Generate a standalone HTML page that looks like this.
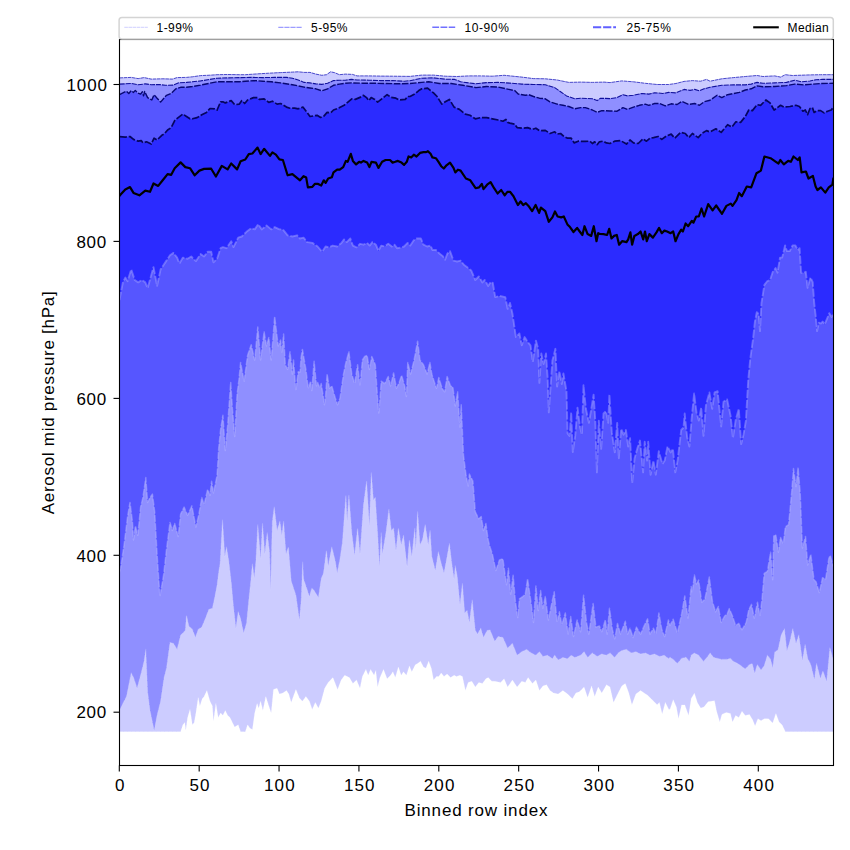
<!DOCTYPE html>
<html><head><meta charset="utf-8"><title>Aerosol mid pressure percentiles</title>
<style>
html,body{margin:0;padding:0;background:#fff;}
body{width:850px;height:850px;overflow:hidden;font-family:"Liberation Sans",sans-serif;}
svg{display:block;}
text{fill:#000;}
</style></head><body>
<svg width="850" height="850" viewBox="0 0 850 850">
<clipPath id="cp"><rect x="119.5" y="39.5" width="714.0" height="726.0"/></clipPath>
<g clip-path="url(#cp)">
<polygon points="119.5,77.9 131.2,77.4 138.2,78.6 144.1,77.6 151.2,79.1 162.9,78.8 172.4,79.1 177.1,77.6 186.5,77.4 192.4,76.8 200.6,75.6 210.0,75.2 217.1,74.7 227.6,74.5 239.4,74.7 245.3,74.7 257.1,73.9 268.8,73.2 280.6,72.6 292.4,72.1 298.2,71.8 304.1,72.4 310.0,72.4 315.9,74.1 321.8,75.3 326.5,74.7 330.6,71.8 334.7,72.7 339.4,74.7 345.3,74.1 352.4,74.4 357.1,75.9 368.8,75.9 380.6,76.1 392.4,76.2 410.0,76.4 421.8,75.1 433.5,75.1 445.3,76.2 457.1,76.5 468.8,75.9 480.6,75.9 492.4,76.2 504.1,75.3 510.0,75.9 521.8,77.1 533.5,78.6 545.3,78.8 557.1,80.0 568.8,82.4 580.6,82.1 592.4,82.4 604.1,82.1 610.0,82.6 621.8,80.9 633.5,81.8 645.3,83.3 657.1,84.5 668.8,84.5 675.9,83.5 684.1,81.4 692.4,80.6 700.6,81.2 706.5,79.4 710.0,81.2 721.8,78.8 733.5,77.6 745.3,76.5 757.1,75.5 762.9,76.5 774.7,75.9 780.6,77.1 785.3,74.7 792.4,75.5 804.1,75.1 810.0,74.9 820.6,74.7 833.5,74.7 833.5,731.7 785.4,731.7 782.2,725.1 779.1,721.9 775.9,713.4 772.7,722.9 768.5,718.7 764.2,718.7 761.1,720.8 757.9,718.7 755.1,726.1 752.6,719.8 749.4,714.5 745.2,715.5 742.0,711.3 738.8,717.6 735.6,715.5 732.5,721.9 730.4,713.4 726.1,712.4 721.9,714.5 719.8,721.9 716.6,711.3 714.5,700.7 708.1,701.8 703.9,707.1 700.7,708.1 697.5,702.8 694.4,693.3 691.2,698.6 688.6,715.5 684.8,704.9 681.6,704.9 678.5,718.7 676.4,707.1 673.2,699.7 670.0,709.2 668.8,709.4 665.3,702.4 662.2,714.1 659.4,702.4 657.1,704.7 652.4,700.0 647.6,695.3 644.1,692.9 640.6,690.6 635.9,694.1 631.9,704.7 628.8,692.9 625.3,683.5 621.8,685.9 618.2,692.9 613.5,702.4 610.0,687.1 606.5,684.7 601.8,692.9 598.2,687.1 594.7,696.5 591.6,685.9 587.6,697.6 584.1,687.1 579.4,691.8 575.9,692.9 572.4,698.8 567.6,694.1 562.9,690.6 558.2,694.1 553.5,692.9 550.0,690.6 546.5,684.7 542.9,685.9 539.4,690.6 535.9,680.0 532.4,683.5 528.1,677.6 525.3,682.4 521.8,681.2 517.1,687.1 512.4,680.0 507.6,687.1 504.1,678.8 500.6,682.4 494.7,681.2 491.8,681.2 488.2,677.6 485.9,678.8 482.4,683.5 478.8,682.4 475.3,687.1 471.8,681.2 468.2,682.4 465.4,690.6 462.4,676.5 460.0,675.3 456.5,676.5 454.1,675.3 450.6,677.6 447.1,674.1 444.0,676.5 441.2,672.9 438.8,676.5 436.5,676.5 433.6,680.0 431.3,668.2 428.7,661.2 425.9,668.2 423.5,667.1 420.5,661.2 417.6,663.5 415.3,664.7 411.8,671.8 409.4,665.9 406.4,675.3 403.5,671.8 401.2,675.3 398.4,667.1 395.3,677.6 392.9,671.8 390.6,675.3 387.1,678.8 383.5,669.4 380.0,677.6 377.6,687.1 375.8,670.6 374.1,675.3 370.6,669.4 368.2,675.3 365.9,669.4 362.4,676.5 360.0,688.2 356.5,680.0 352.9,683.5 349.4,677.6 344.7,675.3 341.2,680.0 337.6,689.4 332.9,677.6 328.2,682.4 324.7,688.2 321.2,701.2 318.4,708.2 315.3,702.4 312.2,709.4 309.4,701.2 305.9,696.5 302.4,701.2 299.4,698.0 295.9,689.4 291.2,702.4 288.8,694.1 286.5,690.6 282.9,692.9 279.4,694.1 277.1,688.2 273.5,689.4 271.2,712.9 268.8,705.9 265.8,696.5 262.9,710.6 260.6,701.2 258.7,708.2 257.1,703.5 254.7,712.9 252.4,729.4 250.0,728.2 247.6,724.7 245.3,731.7 240.6,731.7 238.2,724.7 234.7,727.1 232.4,722.4 230.0,717.6 227.6,715.3 225.3,710.6 222.9,715.3 220.6,712.9 218.2,717.6 215.9,703.5 213.5,721.2 212.4,705.9 210.0,701.2 206.9,690.6 204.1,696.5 202.2,698.8 199.9,705.9 198.2,697.6 195.9,712.9 194.2,722.4 192.4,724.7 190.0,709.4 187.6,717.6 185.8,730.6 184.8,722.4 182.9,724.7 180.6,731.7 119.5,731.7" fill="#ccccff"/>
<polygon points="119.5,84.1 131.2,83.5 138.2,84.7 145.3,83.9 151.2,84.7 159.4,84.5 165.3,85.3 173.5,85.1 178.2,82.9 186.5,82.4 192.4,81.8 200.6,80.9 210.0,79.4 217.1,78.2 227.6,77.9 239.4,77.6 251.2,77.4 262.9,77.6 274.7,77.4 286.5,77.4 292.4,78.2 298.2,80.0 304.1,82.4 310.0,82.9 315.9,83.9 321.8,84.4 327.6,83.3 333.5,80.6 339.4,80.2 345.3,80.2 351.2,79.4 357.1,80.0 368.8,80.2 380.6,80.6 392.4,80.6 404.1,81.2 410.0,80.7 421.8,78.2 433.5,77.9 445.3,79.2 454.7,79.4 460.6,81.8 468.8,82.9 475.9,83.8 486.5,82.6 498.2,82.4 510.0,83.1 521.8,84.1 533.5,84.5 545.3,84.7 554.7,87.6 560.6,91.8 566.5,95.9 574.7,98.8 580.6,98.2 592.4,98.8 597.1,100.6 600.6,98.2 610.0,98.6 617.1,97.6 622.9,94.7 627.6,95.9 633.5,95.3 641.8,93.5 648.8,94.1 654.7,92.7 662.9,93.5 668.8,92.4 675.9,92.9 684.1,89.4 690.0,90.4 694.7,89.4 699.4,90.8 704.1,88.8 710.0,87.3 721.8,85.3 733.5,84.9 745.3,84.9 751.2,84.1 757.1,82.4 762.9,83.3 774.7,82.9 786.5,82.4 794.7,80.2 801.8,81.8 810.0,81.0 815.9,79.8 822.9,79.4 833.5,79.4 833.5,660.5 829.9,647.8 826.7,681.6 822.9,671.1 820.4,678.5 816.5,663.6 814.4,679.5 810.8,664.7 807.7,658.4 805.1,644.6 802.4,660.5 798.8,635.1 796.0,643.5 792.8,628.7 789.6,642.5 786.9,650.9 784.4,628.7 781.2,635.1 778.0,649.9 774.8,652.0 772.7,667.9 770.6,659.4 767.4,655.2 764.2,665.8 761.1,670.0 757.2,664.7 754.7,673.2 752.2,663.6 749.4,664.7 745.2,668.9 740.9,665.8 737.8,663.6 733.5,661.5 730.4,658.4 726.1,659.4 721.9,659.4 717.6,658.4 713.4,657.3 710.2,653.1 707.1,657.3 703.5,661.5 698.6,655.2 694.4,653.1 691.2,655.2 689.5,661.5 685.9,657.3 681.6,658.4 677.4,663.6 673.2,659.4 670.0,657.3 668.8,658.8 664.1,655.3 659.4,656.5 654.7,654.1 650.0,655.3 645.3,652.9 640.6,654.1 635.9,651.8 631.2,652.9 626.5,649.4 621.8,650.6 618.2,652.9 614.7,657.6 610.0,652.9 606.5,655.3 601.8,654.1 597.1,656.5 592.4,652.9 587.6,657.6 584.1,651.8 580.6,655.3 574.7,657.6 571.2,655.3 567.6,658.8 562.9,657.6 558.2,660.0 554.7,655.3 552.4,658.8 547.6,655.3 542.9,656.5 539.4,651.8 535.9,655.3 531.2,652.9 526.5,649.4 521.8,651.8 517.1,655.3 512.4,643.5 507.6,648.2 502.9,637.6 498.2,636.5 494.7,641.2 490.0,630.0 487.1,630.6 483.5,637.6 480.7,628.2 477.6,634.1 475.3,630.6 472.2,600.0 469.4,622.4 467.1,610.6 464.7,612.9 462.4,583.5 460.0,604.7 457.2,576.0 455.3,565.9 454.1,579.0 451.8,563.5 449.4,543.5 447.1,556.5 444.0,572.9 441.2,563.5 438.4,551.8 435.3,570.6 431.8,556.5 430.1,530.6 428.2,544.7 425.2,524.7 422.4,540.0 420.0,544.7 417.6,511.8 415.8,549.4 414.8,528.2 411.8,556.5 409.4,540.0 407.1,566.5 403.5,535.3 401.2,544.7 398.4,528.2 396.0,550.6 393.6,528.2 391.3,530.6 388.9,509.4 385.9,532.9 382.4,554.1 381.2,532.9 379.5,566.5 377.6,532.9 375.3,497.6 373.4,500.0 371.3,472.9 369.4,525.9 366.6,481.2 363.5,504.7 360.0,554.1 357.6,528.2 354.6,555.3 351.8,532.9 348.9,495.3 347.1,521.2 345.9,495.3 342.4,542.4 340.0,558.8 337.2,572.9 335.3,561.2 331.8,547.1 328.2,565.9 326.4,550.6 323.5,572.9 321.2,578.8 318.4,597.6 314.1,590.6 311.8,588.2 309.4,596.5 305.9,585.9 303.5,578.8 302.7,562.0 301.2,600.0 299.4,620.0 295.9,595.3 291.2,581.0 288.4,547.1 286.0,554.1 283.6,521.2 281.8,535.3 279.9,521.2 277.1,530.6 274.2,507.1 272.4,521.2 271.7,545.0 270.7,590.0 269.5,552.0 267.2,532.9 264.8,554.1 262.5,523.5 260.6,558.8 257.8,524.7 255.9,561.2 254.3,578.0 252.4,564.0 250.7,582.0 248.8,600.0 246.5,623.5 243.6,632.9 240.6,618.8 238.2,611.8 235.9,628.2 233.5,607.1 231.2,582.0 228.8,561.2 226.5,547.1 224.8,556.5 222.5,520.0 220.1,563.5 218.7,572.0 217.1,585.0 214.7,597.6 212.4,608.2 208.8,609.4 205.3,618.8 201.8,627.1 198.2,629.4 195.4,637.6 192.4,629.4 188.8,625.9 186.5,615.3 185.3,630.6 180.6,635.3 177.1,649.4 173.5,643.5 170.0,642.4 166.5,668.2 164.1,677.6 160.6,701.2 157.1,715.3 154.2,730.6 150.0,710.6 147.6,691.8 145.8,649.4 144.1,661.2 140.6,675.3 137.1,688.2 133.5,677.6 131.2,672.9 126.5,696.5 122.9,703.5 120.6,708.2 119.5,710.0" fill="#8f8fff"/>
<polygon points="119.5,94.7 126.5,91.2 128.8,93.5 131.2,90.6 133.5,92.4 135.3,90.4 137.6,92.9 140.6,94.1 142.4,91.8 143.5,95.9 144.7,91.5 147.6,97.6 151.8,100.0 154.1,94.7 157.1,98.2 160.6,102.1 166.5,95.3 171.2,93.5 175.9,88.8 180.6,87.3 186.5,87.3 192.4,86.5 200.6,85.1 210.0,83.2 217.1,81.8 227.6,81.8 239.4,81.8 245.3,81.2 253.5,80.6 262.9,81.2 271.2,81.8 280.6,82.9 292.4,84.7 298.2,85.9 304.1,87.1 310.0,88.0 315.9,88.8 321.8,90.8 327.6,88.8 333.5,85.3 339.4,84.1 345.3,83.3 351.2,82.9 362.9,83.2 374.7,83.3 386.5,83.5 398.2,83.8 410.0,83.5 421.8,82.4 428.8,81.8 439.4,83.5 451.2,83.5 462.9,85.3 475.9,87.6 486.5,86.5 498.2,87.1 510.0,89.6 514.7,90.6 518.2,94.1 525.3,95.3 528.8,94.7 533.5,96.5 539.4,98.2 545.3,98.8 550.0,101.8 557.1,104.1 562.9,105.3 568.8,106.5 574.7,108.8 580.6,107.6 585.3,107.6 592.4,110.0 597.1,112.4 601.8,110.6 610.0,111.0 617.1,111.2 622.9,107.6 627.6,109.4 633.5,107.1 639.4,105.3 645.3,104.1 648.8,105.3 654.7,103.5 659.4,103.5 665.3,105.9 671.2,103.8 677.1,104.5 681.8,101.4 688.8,104.5 694.7,103.5 699.4,105.3 704.1,101.8 710.0,100.3 717.1,95.3 721.8,97.6 727.6,94.7 739.4,92.4 745.3,90.0 751.2,88.8 757.1,85.9 762.9,86.8 774.7,86.5 786.5,85.6 794.7,84.1 804.1,84.9 810.0,84.4 820.6,83.5 833.5,83.3 833.5,567.1 830.3,555.4 828.8,558.6 825.7,578.7 822.5,577.7 819.3,592.5 816.1,581.9 814.0,579.8 810.8,554.4 807.7,564.9 805.5,536.4 802.4,548.0 800.2,492.9 798.1,467.5 796.0,486.6 793.5,468.6 791.8,490.8 788.6,524.7 785.4,526.8 783.3,543.8 780.5,537.4 778.4,552.2 775.9,535.3 773.8,535.3 772.7,579.8 770.6,552.2 767.4,571.3 764.2,573.4 762.1,598.0 760.0,616.0 757.5,602.2 754.3,618.1 751.5,604.4 748.8,609.6 746.2,622.4 742.0,629.8 738.8,623.4 735.6,625.5 732.5,616.0 729.3,608.6 727.2,613.9 724.6,616.0 721.2,622.4 718.3,606.5 715.5,611.8 712.4,601.2 709.3,577.0 707.1,588.0 704.9,599.1 701.8,602.2 698.6,580.0 696.5,584.0 694.4,575.0 692.2,592.5 691.2,586.4 688.0,618.1 684.8,595.9 681.6,613.9 677.4,632.9 673.2,619.2 670.0,625.5 668.4,620.0 664.6,636.5 661.8,629.4 658.9,612.9 655.9,634.1 653.5,628.2 650.0,634.1 647.6,618.8 644.1,625.9 640.6,634.1 636.4,627.1 633.1,637.6 630.0,628.2 627.6,634.1 625.3,621.2 620.6,634.1 617.5,623.5 614.7,638.8 612.4,629.4 609.5,608.2 607.2,634.1 605.3,620.0 601.8,631.8 599.4,625.9 595.9,627.1 593.1,603.5 588.8,634.1 586.5,622.4 583.6,595.3 580.6,631.8 577.1,620.0 573.5,636.5 570.7,616.5 568.1,634.1 565.3,612.9 561.8,624.7 559.4,611.8 557.1,622.4 554.2,591.8 551.2,605.9 548.4,620.0 545.3,596.5 542.9,608.2 540.6,590.6 538.2,610.6 535.9,585.9 533.5,622.4 531.2,603.5 527.6,578.8 525.3,594.1 522.9,596.5 519.4,598.8 517.8,617.6 515.4,601.2 513.1,575.3 510.7,594.1 508.4,568.2 506.5,584.7 502.9,558.8 499.4,560.0 495.9,570.6 492.4,554.1 490.0,547.1 488.2,540.0 485.9,523.5 483.5,530.6 481.2,516.5 478.8,518.8 475.3,511.8 472.9,481.2 469.4,474.1 468.2,485.9 465.9,474.1 463.5,455.3 461.2,404.7 460.0,427.1 457.6,391.8 455.3,405.9 452.9,387.1 450.6,385.9 447.1,376.5 444.7,391.8 442.4,389.0 438.8,377.6 436.5,388.2 434.1,381.2 431.8,374.1 429.9,362.4 427.1,374.1 423.5,364.7 420.0,360.0 417.6,341.2 414.1,360.0 410.6,374.1 407.8,362.4 406.4,396.5 404.7,385.9 401.6,375.3 398.8,383.5 396.5,388.2 393.6,372.9 390.6,385.9 388.2,376.5 384.7,383.5 381.2,381.2 380.0,398.0 378.8,412.9 377.6,398.0 375.3,364.7 371.8,356.5 369.4,369.4 367.1,355.3 364.7,356.5 362.4,360.0 360.0,385.9 357.6,364.7 354.6,383.5 351.8,374.1 348.9,351.8 345.9,362.4 343.5,374.1 340.0,398.0 337.6,404.7 335.3,398.0 331.8,385.9 329.4,388.2 327.1,374.1 325.4,398.0 324.4,404.7 323.5,398.0 321.2,383.5 320.0,388.2 317.6,382.4 316.5,385.9 314.1,361.2 311.8,390.6 310.6,381.2 308.2,388.2 305.9,369.4 302.4,349.4 301.0,358.0 300.1,372.0 298.2,371.8 295.9,390.6 293.5,360.0 292.4,374.1 290.0,351.8 287.6,369.4 285.3,364.7 283.6,334.1 281.8,352.9 280.6,340.0 278.2,345.9 274.7,316.5 271.2,360.0 268.8,337.6 266.5,345.9 264.1,331.8 260.6,360.0 257.8,327.1 254.7,360.0 251.2,344.7 247.6,355.3 244.1,381.2 240.6,362.4 238.9,380.0 237.1,394.1 234.7,436.5 232.4,408.2 230.7,382.4 227.6,425.9 225.3,450.6 222.9,415.3 220.6,429.4 218.7,448.2 217.1,475.3 213.5,492.9 211.6,481.2 210.0,495.3 207.6,489.4 204.1,504.7 201.8,497.6 198.9,514.1 195.9,527.1 191.9,505.9 187.6,515.3 184.1,507.1 180.6,514.1 178.2,536.5 174.7,523.5 172.4,530.6 170.0,522.4 166.5,549.4 163.6,575.0 159.9,596.5 157.1,554.1 154.7,511.8 152.4,494.1 150.0,497.6 147.6,502.4 145.8,477.6 142.9,497.6 140.6,507.1 137.8,535.3 135.4,525.9 133.5,540.0 132.4,521.2 130.0,502.4 127.6,516.5 124.1,544.7 120.6,568.2 119.5,572.0" fill="#5656ff"/>
<polygon points="119.5,136.7 125.3,137.1 130.0,136.5 133.5,139.4 138.2,141.2 141.2,140.6 142.9,142.9 146.5,141.8 151.2,144.1 154.1,138.2 157.1,140.0 161.8,135.3 164.1,134.1 167.6,130.0 171.2,127.6 174.7,120.6 178.2,117.6 182.9,114.1 186.5,116.5 190.0,118.8 192.4,118.8 197.1,117.6 201.8,114.7 206.5,112.4 210.0,108.5 214.7,108.8 217.1,110.0 220.6,101.8 222.9,101.8 225.3,102.9 231.2,100.6 234.7,104.7 239.4,104.1 241.8,100.6 244.7,103.5 247.6,100.0 253.5,97.6 257.1,97.6 259.4,99.4 264.1,98.8 268.8,102.4 272.4,101.2 277.1,104.1 280.6,103.5 286.5,107.1 290.0,108.2 294.7,108.2 298.2,108.8 302.9,107.1 306.5,111.8 310.0,116.5 317.1,115.3 320.6,117.4 324.1,115.9 327.1,112.4 330.6,112.9 333.5,110.0 338.2,108.2 344.1,105.3 347.6,102.4 351.8,98.8 355.3,99.4 360.6,97.1 363.5,95.3 366.5,97.6 368.8,100.6 371.2,97.6 374.7,99.4 377.6,102.1 381.8,98.8 387.1,94.7 391.2,97.4 395.9,98.2 399.4,100.0 405.3,99.4 407.6,96.5 410.0,96.5 414.7,94.1 418.8,90.6 421.8,88.8 427.6,88.2 433.5,92.9 437.1,96.5 441.8,104.1 445.3,101.8 449.4,99.4 454.1,107.1 459.4,109.4 465.3,114.1 470.0,115.3 475.3,118.8 480.6,117.6 486.5,117.6 492.4,118.8 498.2,120.0 502.9,121.2 505.9,119.4 507.6,122.4 510.0,123.1 514.7,124.1 517.1,127.6 522.9,128.2 527.6,127.6 532.4,129.4 535.9,128.2 539.4,130.6 545.3,130.4 550.0,133.5 554.7,131.8 557.1,134.1 560.6,133.5 564.1,136.5 567.6,138.2 571.2,138.2 574.1,142.9 578.2,141.2 585.3,141.4 590.0,141.2 592.4,143.5 594.7,141.8 597.1,144.7 599.4,141.8 602.9,141.2 606.5,142.9 610.0,143.5 614.7,141.2 620.6,140.6 626.5,144.1 630.0,140.0 633.5,142.9 638.2,143.5 642.9,138.8 646.5,141.2 650.0,138.2 653.5,137.6 658.2,136.5 661.8,139.4 666.5,135.9 671.2,134.1 674.7,138.2 680.6,132.4 685.3,133.5 688.8,137.6 692.4,133.5 698.2,137.6 701.8,133.5 706.5,130.6 710.0,132.0 715.9,128.8 721.2,132.4 727.6,124.7 731.8,127.1 735.9,121.8 740.6,122.4 745.3,116.5 748.8,110.0 752.4,110.6 757.1,104.7 760.6,105.3 765.9,100.0 770.0,102.9 774.1,110.0 780.6,105.3 784.1,107.1 790.0,106.5 795.9,105.3 799.4,106.5 802.9,111.2 805.3,110.0 807.6,114.7 810.0,108.5 812.4,107.6 814.1,112.4 817.1,110.6 820.6,110.6 824.1,112.9 827.6,111.2 831.2,110.0 833.5,107.1 833.5,314.1 831.6,316.9 829.3,313.2 827.4,317.9 824.6,324.5 822.7,321.6 820.8,323.5 818.9,322.6 817.1,331.1 815.7,316.0 814.2,302.8 812.7,282.1 810.5,277.4 807.6,287.8 805.8,271.8 803.9,272.7 801.1,272.7 799.6,248.2 797.7,250.1 795.4,245.4 792.6,245.4 789.8,251.1 786.9,251.1 785.1,245.4 782.2,257.6 780.0,257.6 777.5,272.7 775.6,268.0 772.8,271.8 770.0,280.2 767.2,281.2 764.4,284.9 761.5,302.8 760.0,331.1 758.7,314.1 756.8,312.2 754.9,321.6 753.1,338.6 750.2,359.3 748.2,380.6 745.9,420.6 743.5,434.7 741.2,444.1 738.8,408.8 735.8,419.4 732.9,438.2 730.6,415.9 727.1,399.4 723.5,401.8 721.2,426.5 717.6,391.2 714.6,392.4 712.2,408.8 709.4,392.4 705.9,405.3 703.5,435.9 701.2,407.6 698.8,420.6 696.5,412.4 694.1,393.5 691.8,417.1 689.4,446.5 687.1,437.1 684.7,413.5 683.5,427.6 681.2,430.0 677.6,460.6 675.3,472.4 672.9,448.8 670.6,452.4 667.5,446.5 664.7,460.6 662.4,464.1 658.8,451.2 655.8,474.7 653.4,460.6 650.6,474.7 648.2,441.8 647.1,460.6 644.7,441.8 643.1,472.4 640.0,440.6 637.6,447.6 634.6,458.2 632.2,482.9 630.1,438.2 628.2,446.5 625.9,430.0 623.5,434.7 621.2,428.8 618.8,458.2 617.2,422.9 614.8,452.4 611.8,432.4 609.4,394.7 608.2,422.9 605.9,411.2 603.5,413.5 601.2,448.8 598.8,420.6 596.9,472.4 595.3,420.6 593.6,394.7 591.3,408.8 588.9,422.9 585.9,408.8 583.5,385.3 581.9,434.7 580.0,427.0 577.5,407.6 575.2,435.9 572.8,452.0 571.2,412.4 569.5,435.9 567.6,433.5 566.5,391.2 563.4,373.5 561.8,384.1 559.4,371.2 557.1,386.5 555.4,348.8 552.4,360.6 548.8,412.4 547.6,377.1 546.0,353.5 543.6,364.1 541.3,353.5 539.4,382.9 538.2,348.8 535.9,340.6 532.8,361.8 530.5,345.3 527.6,341.8 524.6,337.1 521.8,345.3 519.4,333.5 515.9,337.1 512.4,313.5 510.0,302.9 507.6,308.8 505.3,297.1 499.4,295.9 495.2,297.1 492.8,282.9 490.6,282.0 488.2,285.9 484.7,280.0 482.4,282.4 478.8,276.5 475.3,280.0 471.2,270.5 467.6,267.6 464.1,265.0 460.6,260.6 457.1,261.5 453.5,260.6 450.0,251.2 447.4,253.5 445.1,259.7 442.9,256.2 439.4,253.5 435.9,250.0 432.4,250.0 430.6,245.6 427.1,246.5 423.5,244.7 420.9,238.5 416.5,238.5 413.8,240.3 410.3,245.6 407.6,242.9 404.1,246.5 401.5,247.4 397.1,248.2 394.4,244.7 391.8,246.5 388.2,243.8 384.7,246.5 381.2,245.6 378.5,250.9 375.9,244.7 372.4,242.1 369.7,245.6 367.1,242.9 363.5,244.7 360.0,243.8 356.5,247.4 352.9,245.6 350.3,238.5 346.8,242.1 344.1,239.4 341.5,242.9 337.1,246.5 332.6,245.6 329.1,247.4 325.6,246.5 322.1,251.8 317.6,246.5 312.4,242.9 307.1,242.1 303.5,237.6 300.0,238.5 297.1,235.3 292.4,236.5 287.6,235.3 282.9,229.4 279.4,229.4 274.7,227.1 271.2,229.4 266.5,225.4 261.8,229.4 258.2,224.2 254.7,229.4 251.2,228.2 246.5,231.8 241.8,236.5 238.2,237.6 233.5,247.1 231.2,241.2 226.5,248.2 222.9,247.1 220.6,248.2 217.1,258.8 213.5,262.4 211.2,251.8 207.6,251.8 204.1,256.5 200.6,254.1 195.9,261.2 191.2,256.5 187.6,258.8 182.9,257.6 179.4,263.5 177.1,257.6 173.5,252.9 170.0,255.3 165.3,262.4 160.6,269.4 157.1,285.9 153.5,267.1 151.2,275.3 147.6,288.2 145.3,282.4 141.8,280.0 138.2,282.4 134.7,280.0 131.2,269.4 127.6,281.2 125.3,277.6 122.9,282.4 120.6,294.1 119.5,300.0" fill="#2b2bff"/>
<polyline points="119.5,731.7 180.6,731.7 182.9,724.7 184.8,722.4 185.8,730.6 187.6,717.6 190.0,709.4 192.4,724.7 194.2,722.4 195.9,712.9 198.2,697.6 199.9,705.9 202.2,698.8 204.1,696.5 206.9,690.6 210.0,701.2 212.4,705.9 213.5,721.2 215.9,703.5 218.2,717.6 220.6,712.9 222.9,715.3 225.3,710.6 227.6,715.3 230.0,717.6 232.4,722.4 234.7,727.1 238.2,724.7 240.6,731.7 245.3,731.7 247.6,724.7 250.0,728.2 252.4,729.4 254.7,712.9 257.1,703.5 258.7,708.2 260.6,701.2 262.9,710.6 265.8,696.5 268.8,705.9 271.2,712.9 273.5,689.4 277.1,688.2 279.4,694.1 282.9,692.9 286.5,690.6 288.8,694.1 291.2,702.4 295.9,689.4 299.4,698.0 302.4,701.2 305.9,696.5 309.4,701.2 312.2,709.4 315.3,702.4 318.4,708.2 321.2,701.2 324.7,688.2 328.2,682.4 332.9,677.6 337.6,689.4 341.2,680.0 344.7,675.3 349.4,677.6 352.9,683.5 356.5,680.0 360.0,688.2 362.4,676.5 365.9,669.4 368.2,675.3 370.6,669.4 374.1,675.3 375.8,670.6 377.6,687.1 380.0,677.6 383.5,669.4 387.1,678.8 390.6,675.3 392.9,671.8 395.3,677.6 398.4,667.1 401.2,675.3 403.5,671.8 406.4,675.3 409.4,665.9 411.8,671.8 415.3,664.7 417.6,663.5 420.5,661.2 423.5,667.1 425.9,668.2 428.7,661.2 431.3,668.2 433.6,680.0 436.5,676.5 438.8,676.5 441.2,672.9 444.0,676.5 447.1,674.1 450.6,677.6 454.1,675.3 456.5,676.5 460.0,675.3 462.4,676.5 465.4,690.6 468.2,682.4 471.8,681.2 475.3,687.1 478.8,682.4 482.4,683.5 485.9,678.8 488.2,677.6 491.8,681.2 494.7,681.2 500.6,682.4 504.1,678.8 507.6,687.1 512.4,680.0 517.1,687.1 521.8,681.2 525.3,682.4 528.1,677.6 532.4,683.5 535.9,680.0 539.4,690.6 542.9,685.9 546.5,684.7 550.0,690.6 553.5,692.9 558.2,694.1 562.9,690.6 567.6,694.1 572.4,698.8 575.9,692.9 579.4,691.8 584.1,687.1 587.6,697.6 591.6,685.9 594.7,696.5 598.2,687.1 601.8,692.9 606.5,684.7 610.0,687.1 613.5,702.4 618.2,692.9 621.8,685.9 625.3,683.5 628.8,692.9 631.9,704.7 635.9,694.1 640.6,690.6 644.1,692.9 647.6,695.3 652.4,700.0 657.1,704.7 659.4,702.4 662.2,714.1 665.3,702.4 668.8,709.4 670.0,709.2 673.2,699.7 676.4,707.1 678.5,718.7 681.6,704.9 684.8,704.9 688.6,715.5 691.2,698.6 694.4,693.3 697.5,702.8 700.7,708.1 703.9,707.1 708.1,701.8 714.5,700.7 716.6,711.3 719.8,721.9 721.9,714.5 726.1,712.4 730.4,713.4 732.5,721.9 735.6,715.5 738.8,717.6 742.0,711.3 745.2,715.5 749.4,714.5 752.6,719.8 755.1,726.1 757.9,718.7 761.1,720.8 764.2,718.7 768.5,718.7 772.7,722.9 775.9,713.4 779.1,721.9 782.2,725.1 785.4,731.7 833.5,731.7" fill="none" stroke="#ffffff" stroke-width="0.75" stroke-dasharray="3.6,0.5" stroke-linejoin="round" opacity="0.3"/>
<polyline points="119.5,710.0 120.6,708.2 122.9,703.5 126.5,696.5 131.2,672.9 133.5,677.6 137.1,688.2 140.6,675.3 144.1,661.2 145.8,649.4 147.6,691.8 150.0,710.6 154.2,730.6 157.1,715.3 160.6,701.2 164.1,677.6 166.5,668.2 170.0,642.4 173.5,643.5 177.1,649.4 180.6,635.3 185.3,630.6 186.5,615.3 188.8,625.9 192.4,629.4 195.4,637.6 198.2,629.4 201.8,627.1 205.3,618.8 208.8,609.4 212.4,608.2 214.7,597.6 217.1,585.0 218.7,572.0 220.1,563.5 222.5,520.0 224.8,556.5 226.5,547.1 228.8,561.2 231.2,582.0 233.5,607.1 235.9,628.2 238.2,611.8 240.6,618.8 243.6,632.9 246.5,623.5 248.8,600.0 250.7,582.0 252.4,564.0 254.3,578.0 255.9,561.2 257.8,524.7 260.6,558.8 262.5,523.5 264.8,554.1 267.2,532.9 269.5,552.0 270.7,590.0 271.7,545.0 272.4,521.2 274.2,507.1 277.1,530.6 279.9,521.2 281.8,535.3 283.6,521.2 286.0,554.1 288.4,547.1 291.2,581.0 295.9,595.3 299.4,620.0 301.2,600.0 302.7,562.0 303.5,578.8 305.9,585.9 309.4,596.5 311.8,588.2 314.1,590.6 318.4,597.6 321.2,578.8 323.5,572.9 326.4,550.6 328.2,565.9 331.8,547.1 335.3,561.2 337.2,572.9 340.0,558.8 342.4,542.4 345.9,495.3 347.1,521.2 348.9,495.3 351.8,532.9 354.6,555.3 357.6,528.2 360.0,554.1 363.5,504.7 366.6,481.2 369.4,525.9 371.3,472.9 373.4,500.0 375.3,497.6 377.6,532.9 379.5,566.5 381.2,532.9 382.4,554.1 385.9,532.9 388.9,509.4 391.3,530.6 393.6,528.2 396.0,550.6 398.4,528.2 401.2,544.7 403.5,535.3 407.1,566.5 409.4,540.0 411.8,556.5 414.8,528.2 415.8,549.4 417.6,511.8 420.0,544.7 422.4,540.0 425.2,524.7 428.2,544.7 430.1,530.6 431.8,556.5 435.3,570.6 438.4,551.8 441.2,563.5 444.0,572.9 447.1,556.5 449.4,543.5 451.8,563.5 454.1,579.0 455.3,565.9 457.2,576.0 460.0,604.7 462.4,583.5 464.7,612.9 467.1,610.6 469.4,622.4 472.2,600.0 475.3,630.6 477.6,634.1 480.7,628.2 483.5,637.6 487.1,630.6 490.0,630.0 494.7,641.2 498.2,636.5 502.9,637.6 507.6,648.2 512.4,643.5 517.1,655.3 521.8,651.8 526.5,649.4 531.2,652.9 535.9,655.3 539.4,651.8 542.9,656.5 547.6,655.3 552.4,658.8 554.7,655.3 558.2,660.0 562.9,657.6 567.6,658.8 571.2,655.3 574.7,657.6 580.6,655.3 584.1,651.8 587.6,657.6 592.4,652.9 597.1,656.5 601.8,654.1 606.5,655.3 610.0,652.9 614.7,657.6 618.2,652.9 621.8,650.6 626.5,649.4 631.2,652.9 635.9,651.8 640.6,654.1 645.3,652.9 650.0,655.3 654.7,654.1 659.4,656.5 664.1,655.3 668.8,658.8 670.0,657.3 673.2,659.4 677.4,663.6 681.6,658.4 685.9,657.3 689.5,661.5 691.2,655.2 694.4,653.1 698.6,655.2 703.5,661.5 707.1,657.3 710.2,653.1 713.4,657.3 717.6,658.4 721.9,659.4 726.1,659.4 730.4,658.4 733.5,661.5 737.8,663.6 740.9,665.8 745.2,668.9 749.4,664.7 752.2,663.6 754.7,673.2 757.2,664.7 761.1,670.0 764.2,665.8 767.4,655.2 770.6,659.4 772.7,667.9 774.8,652.0 778.0,649.9 781.2,635.1 784.4,628.7 786.9,650.9 789.6,642.5 792.8,628.7 796.0,643.5 798.8,635.1 802.4,660.5 805.1,644.6 807.7,658.4 810.8,664.7 814.4,679.5 816.5,663.6 820.4,678.5 822.9,671.1 826.7,681.6 829.9,647.8 833.5,660.5" fill="none" stroke="#d8d8ff" stroke-width="1.1" stroke-dasharray="5.2,0.85" stroke-linejoin="round" opacity="0.3"/>
<polyline points="119.5,572.0 120.6,568.2 124.1,544.7 127.6,516.5 130.0,502.4 132.4,521.2 133.5,540.0 135.4,525.9 137.8,535.3 140.6,507.1 142.9,497.6 145.8,477.6 147.6,502.4 150.0,497.6 152.4,494.1 154.7,511.8 157.1,554.1 159.9,596.5 163.6,575.0 166.5,549.4 170.0,522.4 172.4,530.6 174.7,523.5 178.2,536.5 180.6,514.1 184.1,507.1 187.6,515.3 191.9,505.9 195.9,527.1 198.9,514.1 201.8,497.6 204.1,504.7 207.6,489.4 210.0,495.3 211.6,481.2 213.5,492.9 217.1,475.3 218.7,448.2 220.6,429.4 222.9,415.3 225.3,450.6 227.6,425.9 230.7,382.4 232.4,408.2 234.7,436.5 237.1,394.1 238.9,380.0 240.6,362.4 244.1,381.2 247.6,355.3 251.2,344.7 254.7,360.0 257.8,327.1 260.6,360.0 264.1,331.8 266.5,345.9 268.8,337.6 271.2,360.0 274.7,316.5 278.2,345.9 280.6,340.0 281.8,352.9 283.6,334.1 285.3,364.7 287.6,369.4 290.0,351.8 292.4,374.1 293.5,360.0 295.9,390.6 298.2,371.8 300.1,372.0 301.0,358.0 302.4,349.4 305.9,369.4 308.2,388.2 310.6,381.2 311.8,390.6 314.1,361.2 316.5,385.9 317.6,382.4 320.0,388.2 321.2,383.5 323.5,398.0 324.4,404.7 325.4,398.0 327.1,374.1 329.4,388.2 331.8,385.9 335.3,398.0 337.6,404.7 340.0,398.0 343.5,374.1 345.9,362.4 348.9,351.8 351.8,374.1 354.6,383.5 357.6,364.7 360.0,385.9 362.4,360.0 364.7,356.5 367.1,355.3 369.4,369.4 371.8,356.5 375.3,364.7 377.6,398.0 378.8,412.9 380.0,398.0 381.2,381.2 384.7,383.5 388.2,376.5 390.6,385.9 393.6,372.9 396.5,388.2 398.8,383.5 401.6,375.3 404.7,385.9 406.4,396.5 407.8,362.4 410.6,374.1 414.1,360.0 417.6,341.2 420.0,360.0 423.5,364.7 427.1,374.1 429.9,362.4 431.8,374.1 434.1,381.2 436.5,388.2 438.8,377.6 442.4,389.0 444.7,391.8 447.1,376.5 450.6,385.9 452.9,387.1 455.3,405.9 457.6,391.8 460.0,427.1 461.2,404.7 463.5,455.3 465.9,474.1 468.2,485.9 469.4,474.1 472.9,481.2 475.3,511.8 478.8,518.8 481.2,516.5 483.5,530.6 485.9,523.5 488.2,540.0 490.0,547.1 492.4,554.1 495.9,570.6 499.4,560.0 502.9,558.8 506.5,584.7 508.4,568.2 510.7,594.1 513.1,575.3 515.4,601.2 517.8,617.6 519.4,598.8 522.9,596.5 525.3,594.1 527.6,578.8 531.2,603.5 533.5,622.4 535.9,585.9 538.2,610.6 540.6,590.6 542.9,608.2 545.3,596.5 548.4,620.0 551.2,605.9 554.2,591.8 557.1,622.4 559.4,611.8 561.8,624.7 565.3,612.9 568.1,634.1 570.7,616.5 573.5,636.5 577.1,620.0 580.6,631.8 583.6,595.3 586.5,622.4 588.8,634.1 593.1,603.5 595.9,627.1 599.4,625.9 601.8,631.8 605.3,620.0 607.2,634.1 609.5,608.2 612.4,629.4 614.7,638.8 617.5,623.5 620.6,634.1 625.3,621.2 627.6,634.1 630.0,628.2 633.1,637.6 636.4,627.1 640.6,634.1 644.1,625.9 647.6,618.8 650.0,634.1 653.5,628.2 655.9,634.1 658.9,612.9 661.8,629.4 664.6,636.5 668.4,620.0 670.0,625.5 673.2,619.2 677.4,632.9 681.6,613.9 684.8,595.9 688.0,618.1 691.2,586.4 692.2,592.5 694.4,575.0 696.5,584.0 698.6,580.0 701.8,602.2 704.9,599.1 707.1,588.0 709.3,577.0 712.4,601.2 715.5,611.8 718.3,606.5 721.2,622.4 724.6,616.0 727.2,613.9 729.3,608.6 732.5,616.0 735.6,625.5 738.8,623.4 742.0,629.8 746.2,622.4 748.8,609.6 751.5,604.4 754.3,618.1 757.5,602.2 760.0,616.0 762.1,598.0 764.2,573.4 767.4,571.3 770.6,552.2 772.7,579.8 773.8,535.3 775.9,535.3 778.4,552.2 780.5,537.4 783.3,543.8 785.4,526.8 788.6,524.7 791.8,490.8 793.5,468.6 796.0,486.6 798.1,467.5 800.2,492.9 802.4,548.0 805.5,536.4 807.7,564.9 810.8,554.4 814.0,579.8 816.1,581.9 819.3,592.5 822.5,577.7 825.7,578.7 828.8,558.6 830.3,555.4 833.5,567.1" fill="none" stroke="#b8b8ff" stroke-width="1.5" stroke-dasharray="6.8,1.4" stroke-linejoin="round" opacity="0.45"/>
<polyline points="119.5,300.0 120.6,294.1 122.9,282.4 125.3,277.6 127.6,281.2 131.2,269.4 134.7,280.0 138.2,282.4 141.8,280.0 145.3,282.4 147.6,288.2 151.2,275.3 153.5,267.1 157.1,285.9 160.6,269.4 165.3,262.4 170.0,255.3 173.5,252.9 177.1,257.6 179.4,263.5 182.9,257.6 187.6,258.8 191.2,256.5 195.9,261.2 200.6,254.1 204.1,256.5 207.6,251.8 211.2,251.8 213.5,262.4 217.1,258.8 220.6,248.2 222.9,247.1 226.5,248.2 231.2,241.2 233.5,247.1 238.2,237.6 241.8,236.5 246.5,231.8 251.2,228.2 254.7,229.4 258.2,224.2 261.8,229.4 266.5,225.4 271.2,229.4 274.7,227.1 279.4,229.4 282.9,229.4 287.6,235.3 292.4,236.5 297.1,235.3 300.0,238.5 303.5,237.6 307.1,242.1 312.4,242.9 317.6,246.5 322.1,251.8 325.6,246.5 329.1,247.4 332.6,245.6 337.1,246.5 341.5,242.9 344.1,239.4 346.8,242.1 350.3,238.5 352.9,245.6 356.5,247.4 360.0,243.8 363.5,244.7 367.1,242.9 369.7,245.6 372.4,242.1 375.9,244.7 378.5,250.9 381.2,245.6 384.7,246.5 388.2,243.8 391.8,246.5 394.4,244.7 397.1,248.2 401.5,247.4 404.1,246.5 407.6,242.9 410.3,245.6 413.8,240.3 416.5,238.5 420.9,238.5 423.5,244.7 427.1,246.5 430.6,245.6 432.4,250.0 435.9,250.0 439.4,253.5 442.9,256.2 445.1,259.7 447.4,253.5 450.0,251.2 453.5,260.6 457.1,261.5 460.6,260.6 464.1,265.0 467.6,267.6 471.2,270.5 475.3,280.0 478.8,276.5 482.4,282.4 484.7,280.0 488.2,285.9 490.6,282.0 492.8,282.9 495.2,297.1 499.4,295.9 505.3,297.1 507.6,308.8 510.0,302.9 512.4,313.5 515.9,337.1 519.4,333.5 521.8,345.3 524.6,337.1 527.6,341.8 530.5,345.3 532.8,361.8 535.9,340.6 538.2,348.8 539.4,382.9 541.3,353.5 543.6,364.1 546.0,353.5 547.6,377.1 548.8,412.4 552.4,360.6 555.4,348.8 557.1,386.5 559.4,371.2 561.8,384.1 563.4,373.5 566.5,391.2 567.6,433.5 569.5,435.9 571.2,412.4 572.8,452.0 575.2,435.9 577.5,407.6 580.0,427.0 581.9,434.7 583.5,385.3 585.9,408.8 588.9,422.9 591.3,408.8 593.6,394.7 595.3,420.6 596.9,472.4 598.8,420.6 601.2,448.8 603.5,413.5 605.9,411.2 608.2,422.9 609.4,394.7 611.8,432.4 614.8,452.4 617.2,422.9 618.8,458.2 621.2,428.8 623.5,434.7 625.9,430.0 628.2,446.5 630.1,438.2 632.2,482.9 634.6,458.2 637.6,447.6 640.0,440.6 643.1,472.4 644.7,441.8 647.1,460.6 648.2,441.8 650.6,474.7 653.4,460.6 655.8,474.7 658.8,451.2 662.4,464.1 664.7,460.6 667.5,446.5 670.6,452.4 672.9,448.8 675.3,472.4 677.6,460.6 681.2,430.0 683.5,427.6 684.7,413.5 687.1,437.1 689.4,446.5 691.8,417.1 694.1,393.5 696.5,412.4 698.8,420.6 701.2,407.6 703.5,435.9 705.9,405.3 709.4,392.4 712.2,408.8 714.6,392.4 717.6,391.2 721.2,426.5 723.5,401.8 727.1,399.4 730.6,415.9 732.9,438.2 735.8,419.4 738.8,408.8 741.2,444.1 743.5,434.7 745.9,420.6 748.2,380.6 750.2,359.3 753.1,338.6 754.9,321.6 756.8,312.2 758.7,314.1 760.0,331.1 761.5,302.8 764.4,284.9 767.2,281.2 770.0,280.2 772.8,271.8 775.6,268.0 777.5,272.7 780.0,257.6 782.2,257.6 785.1,245.4 786.9,251.1 789.8,251.1 792.6,245.4 795.4,245.4 797.7,250.1 799.6,248.2 801.1,272.7 803.9,272.7 805.8,271.8 807.6,287.8 810.5,277.4 812.7,282.1 814.2,302.8 815.7,316.0 817.1,331.1 818.9,322.6 820.8,323.5 822.7,321.6 824.6,324.5 827.4,317.9 829.3,313.2 831.6,316.9 833.5,314.1" fill="none" stroke="#a0a0ff" stroke-width="1.9" stroke-dasharray="8.2,1.9" stroke-linejoin="round" opacity="0.5"/>
<polyline points="119.5,77.9 131.2,77.4 138.2,78.6 144.1,77.6 151.2,79.1 162.9,78.8 172.4,79.1 177.1,77.6 186.5,77.4 192.4,76.8 200.6,75.6 210.0,75.2 217.1,74.7 227.6,74.5 239.4,74.7 245.3,74.7 257.1,73.9 268.8,73.2 280.6,72.6 292.4,72.1 298.2,71.8 304.1,72.4 310.0,72.4 315.9,74.1 321.8,75.3 326.5,74.7 330.6,71.8 334.7,72.7 339.4,74.7 345.3,74.1 352.4,74.4 357.1,75.9 368.8,75.9 380.6,76.1 392.4,76.2 410.0,76.4 421.8,75.1 433.5,75.1 445.3,76.2 457.1,76.5 468.8,75.9 480.6,75.9 492.4,76.2 504.1,75.3 510.0,75.9 521.8,77.1 533.5,78.6 545.3,78.8 557.1,80.0 568.8,82.4 580.6,82.1 592.4,82.4 604.1,82.1 610.0,82.6 621.8,80.9 633.5,81.8 645.3,83.3 657.1,84.5 668.8,84.5 675.9,83.5 684.1,81.4 692.4,80.6 700.6,81.2 706.5,79.4 710.0,81.2 721.8,78.8 733.5,77.6 745.3,76.5 757.1,75.5 762.9,76.5 774.7,75.9 780.6,77.1 785.3,74.7 792.4,75.5 804.1,75.1 810.0,74.9 820.6,74.7 833.5,74.7" fill="none" stroke="#2c2cc0" stroke-width="0.85" stroke-dasharray="3.6,0.6" stroke-linejoin="round" />
<polyline points="119.5,84.1 131.2,83.5 138.2,84.7 145.3,83.9 151.2,84.7 159.4,84.5 165.3,85.3 173.5,85.1 178.2,82.9 186.5,82.4 192.4,81.8 200.6,80.9 210.0,79.4 217.1,78.2 227.6,77.9 239.4,77.6 251.2,77.4 262.9,77.6 274.7,77.4 286.5,77.4 292.4,78.2 298.2,80.0 304.1,82.4 310.0,82.9 315.9,83.9 321.8,84.4 327.6,83.3 333.5,80.6 339.4,80.2 345.3,80.2 351.2,79.4 357.1,80.0 368.8,80.2 380.6,80.6 392.4,80.6 404.1,81.2 410.0,80.7 421.8,78.2 433.5,77.9 445.3,79.2 454.7,79.4 460.6,81.8 468.8,82.9 475.9,83.8 486.5,82.6 498.2,82.4 510.0,83.1 521.8,84.1 533.5,84.5 545.3,84.7 554.7,87.6 560.6,91.8 566.5,95.9 574.7,98.8 580.6,98.2 592.4,98.8 597.1,100.6 600.6,98.2 610.0,98.6 617.1,97.6 622.9,94.7 627.6,95.9 633.5,95.3 641.8,93.5 648.8,94.1 654.7,92.7 662.9,93.5 668.8,92.4 675.9,92.9 684.1,89.4 690.0,90.4 694.7,89.4 699.4,90.8 704.1,88.8 710.0,87.3 721.8,85.3 733.5,84.9 745.3,84.9 751.2,84.1 757.1,82.4 762.9,83.3 774.7,82.9 786.5,82.4 794.7,80.2 801.8,81.8 810.0,81.0 815.9,79.8 822.9,79.4 833.5,79.4" fill="none" stroke="#10109c" stroke-width="1.1" stroke-dasharray="5.2,0.9" stroke-linejoin="round" />
<polyline points="119.5,94.7 126.5,91.2 128.8,93.5 131.2,90.6 133.5,92.4 135.3,90.4 137.6,92.9 140.6,94.1 142.4,91.8 143.5,95.9 144.7,91.5 147.6,97.6 151.8,100.0 154.1,94.7 157.1,98.2 160.6,102.1 166.5,95.3 171.2,93.5 175.9,88.8 180.6,87.3 186.5,87.3 192.4,86.5 200.6,85.1 210.0,83.2 217.1,81.8 227.6,81.8 239.4,81.8 245.3,81.2 253.5,80.6 262.9,81.2 271.2,81.8 280.6,82.9 292.4,84.7 298.2,85.9 304.1,87.1 310.0,88.0 315.9,88.8 321.8,90.8 327.6,88.8 333.5,85.3 339.4,84.1 345.3,83.3 351.2,82.9 362.9,83.2 374.7,83.3 386.5,83.5 398.2,83.8 410.0,83.5 421.8,82.4 428.8,81.8 439.4,83.5 451.2,83.5 462.9,85.3 475.9,87.6 486.5,86.5 498.2,87.1 510.0,89.6 514.7,90.6 518.2,94.1 525.3,95.3 528.8,94.7 533.5,96.5 539.4,98.2 545.3,98.8 550.0,101.8 557.1,104.1 562.9,105.3 568.8,106.5 574.7,108.8 580.6,107.6 585.3,107.6 592.4,110.0 597.1,112.4 601.8,110.6 610.0,111.0 617.1,111.2 622.9,107.6 627.6,109.4 633.5,107.1 639.4,105.3 645.3,104.1 648.8,105.3 654.7,103.5 659.4,103.5 665.3,105.9 671.2,103.8 677.1,104.5 681.8,101.4 688.8,104.5 694.7,103.5 699.4,105.3 704.1,101.8 710.0,100.3 717.1,95.3 721.8,97.6 727.6,94.7 739.4,92.4 745.3,90.0 751.2,88.8 757.1,85.9 762.9,86.8 774.7,86.5 786.5,85.6 794.7,84.1 804.1,84.9 810.0,84.4 820.6,83.5 833.5,83.3" fill="none" stroke="#070774" stroke-width="1.4" stroke-dasharray="6.6,1.5" stroke-linejoin="round" />
<polyline points="119.5,136.7 125.3,137.1 130.0,136.5 133.5,139.4 138.2,141.2 141.2,140.6 142.9,142.9 146.5,141.8 151.2,144.1 154.1,138.2 157.1,140.0 161.8,135.3 164.1,134.1 167.6,130.0 171.2,127.6 174.7,120.6 178.2,117.6 182.9,114.1 186.5,116.5 190.0,118.8 192.4,118.8 197.1,117.6 201.8,114.7 206.5,112.4 210.0,108.5 214.7,108.8 217.1,110.0 220.6,101.8 222.9,101.8 225.3,102.9 231.2,100.6 234.7,104.7 239.4,104.1 241.8,100.6 244.7,103.5 247.6,100.0 253.5,97.6 257.1,97.6 259.4,99.4 264.1,98.8 268.8,102.4 272.4,101.2 277.1,104.1 280.6,103.5 286.5,107.1 290.0,108.2 294.7,108.2 298.2,108.8 302.9,107.1 306.5,111.8 310.0,116.5 317.1,115.3 320.6,117.4 324.1,115.9 327.1,112.4 330.6,112.9 333.5,110.0 338.2,108.2 344.1,105.3 347.6,102.4 351.8,98.8 355.3,99.4 360.6,97.1 363.5,95.3 366.5,97.6 368.8,100.6 371.2,97.6 374.7,99.4 377.6,102.1 381.8,98.8 387.1,94.7 391.2,97.4 395.9,98.2 399.4,100.0 405.3,99.4 407.6,96.5 410.0,96.5 414.7,94.1 418.8,90.6 421.8,88.8 427.6,88.2 433.5,92.9 437.1,96.5 441.8,104.1 445.3,101.8 449.4,99.4 454.1,107.1 459.4,109.4 465.3,114.1 470.0,115.3 475.3,118.8 480.6,117.6 486.5,117.6 492.4,118.8 498.2,120.0 502.9,121.2 505.9,119.4 507.6,122.4 510.0,123.1 514.7,124.1 517.1,127.6 522.9,128.2 527.6,127.6 532.4,129.4 535.9,128.2 539.4,130.6 545.3,130.4 550.0,133.5 554.7,131.8 557.1,134.1 560.6,133.5 564.1,136.5 567.6,138.2 571.2,138.2 574.1,142.9 578.2,141.2 585.3,141.4 590.0,141.2 592.4,143.5 594.7,141.8 597.1,144.7 599.4,141.8 602.9,141.2 606.5,142.9 610.0,143.5 614.7,141.2 620.6,140.6 626.5,144.1 630.0,140.0 633.5,142.9 638.2,143.5 642.9,138.8 646.5,141.2 650.0,138.2 653.5,137.6 658.2,136.5 661.8,139.4 666.5,135.9 671.2,134.1 674.7,138.2 680.6,132.4 685.3,133.5 688.8,137.6 692.4,133.5 698.2,137.6 701.8,133.5 706.5,130.6 710.0,132.0 715.9,128.8 721.2,132.4 727.6,124.7 731.8,127.1 735.9,121.8 740.6,122.4 745.3,116.5 748.8,110.0 752.4,110.6 757.1,104.7 760.6,105.3 765.9,100.0 770.0,102.9 774.1,110.0 780.6,105.3 784.1,107.1 790.0,106.5 795.9,105.3 799.4,106.5 802.9,111.2 805.3,110.0 807.6,114.7 810.0,108.5 812.4,107.6 814.1,112.4 817.1,110.6 820.6,110.6 824.1,112.9 827.6,111.2 831.2,110.0 833.5,107.1" fill="none" stroke="#05055e" stroke-width="1.7" stroke-dasharray="7.4,1.9" stroke-linejoin="round" />
<polyline points="119.5,196.0 120.6,194.6 125.3,189.4 130.0,187.1 133.5,192.9 139.4,195.3 145.3,190.6 150.0,191.8 153.5,183.5 158.2,185.9 162.9,180.0 167.6,174.1 171.2,174.8 174.7,168.2 180.6,162.4 185.3,167.1 190.0,168.2 194.7,175.3 199.4,170.6 204.1,168.9 211.2,168.7 215.9,176.5 221.8,165.9 227.6,169.4 231.2,163.5 237.1,169.4 240.6,161.2 245.3,159.5 248.8,154.1 252.4,153.5 257.6,147.6 260.6,154.1 264.1,148.8 270.0,155.9 272.4,152.4 275.9,154.7 279.4,159.4 282.9,160.0 287.6,175.3 292.4,174.1 298.2,178.8 300.0,180.3 303.5,176.2 306.2,177.6 307.9,187.4 312.4,186.8 315.0,183.8 317.6,183.8 321.2,185.6 323.8,180.3 325.6,182.9 328.2,178.5 331.8,177.3 333.5,172.4 337.1,169.7 339.7,169.7 343.2,167.1 345.9,160.9 347.6,161.8 350.8,153.8 352.9,160.9 356.1,164.4 359.1,161.8 360.9,162.6 363.5,160.9 367.1,162.6 369.4,167.1 371.5,161.8 375.9,162.6 378.5,167.9 382.1,161.8 385.6,160.0 390.0,160.0 392.6,162.6 395.3,161.8 397.9,160.9 401.5,162.6 404.1,164.9 406.8,161.8 408.5,156.5 411.2,157.4 413.8,154.7 416.5,156.5 420.0,152.9 423.5,152.1 426.2,152.1 427.9,151.2 430.6,153.8 432.4,157.4 435.9,158.2 438.5,161.8 441.2,166.2 443.8,168.5 446.5,165.3 450.0,162.6 453.5,167.9 455.3,172.4 457.9,169.7 460.6,170.6 465.9,178.5 470.3,180.3 475.6,188.2 479.1,187.4 481.8,183.8 483.5,189.1 487.1,184.7 490.6,182.1 494.1,188.2 497.6,193.5 501.2,190.0 504.7,195.3 507.4,191.8 510.0,191.8 513.5,196.2 517.9,205.0 520.6,201.5 523.2,205.0 525.9,203.2 528.5,205.9 532.1,211.2 535.6,205.0 539.1,212.9 540.9,207.6 545.3,211.2 548.8,221.8 552.4,217.4 555.0,211.5 557.6,216.5 561.2,217.4 563.8,216.5 567.4,224.4 570.0,227.1 573.5,232.0 577.1,227.9 579.7,231.5 582.4,235.0 584.5,226.2 587.6,234.1 591.2,235.9 593.8,226.2 596.5,241.2 598.2,233.2 600.0,234.0 603.5,234.1 607.1,235.0 609.2,228.8 611.5,238.5 614.1,235.9 616.8,235.0 619.1,244.7 622.1,241.2 626.5,242.1 628.2,239.4 630.4,232.4 632.1,244.7 634.4,235.9 637.9,234.1 640.6,231.5 643.2,239.4 645.0,231.5 646.8,241.2 649.4,234.1 652.9,237.6 656.5,232.4 659.1,227.9 661.8,233.2 664.4,230.6 667.1,231.5 670.6,233.2 673.2,231.5 675.5,241.2 678.5,234.1 681.2,229.7 682.9,231.5 685.6,223.5 688.2,226.2 691.8,220.9 693.5,222.6 696.2,216.5 698.8,216.5 701.5,208.5 704.1,216.5 708.2,204.1 712.6,210.3 716.2,205.5 722.0,213.8 726.4,205.9 730.8,203.6 732.5,205.9 736.5,200.2 739.1,193.0 741.8,196.2 746.8,186.5 751.2,187.4 756.5,173.2 760.9,170.6 764.4,156.5 770.6,158.2 775.9,161.8 778.5,163.5 780.3,160.0 783.8,164.4 788.2,160.9 790.9,161.8 793.5,156.5 797.9,160.0 799.7,157.4 801.5,172.4 805.9,171.5 808.5,178.5 812.9,175.9 815.6,186.5 817.4,190.0 820.9,187.4 825.3,192.6 828.8,187.4 832.4,184.7 833.5,177.6" fill="none" stroke="#000000" stroke-width="2.2" stroke-linejoin="round" />
</g>
<rect x="119.5" y="39.5" width="714.0" height="726.0" fill="none" stroke="#000" stroke-width="1.1"/>
<line x1="119.30" y1="765.5" x2="119.30" y2="771.4" stroke="#000" stroke-width="1.1"/>
<text x="114.88" y="790.8" font-family="Liberation Sans, sans-serif" font-size="17" textLength="9.45" lengthAdjust="spacing">0</text>
<line x1="199.18" y1="765.5" x2="199.18" y2="771.4" stroke="#000" stroke-width="1.1"/>
<text x="189.43" y="790.8" font-family="Liberation Sans, sans-serif" font-size="17" textLength="20.1" lengthAdjust="spacing">50</text>
<line x1="279.05" y1="765.5" x2="279.05" y2="771.4" stroke="#000" stroke-width="1.1"/>
<text x="264.00" y="790.8" font-family="Liberation Sans, sans-serif" font-size="17" textLength="30.7" lengthAdjust="spacing">100</text>
<line x1="358.93" y1="765.5" x2="358.93" y2="771.4" stroke="#000" stroke-width="1.1"/>
<text x="343.88" y="790.8" font-family="Liberation Sans, sans-serif" font-size="17" textLength="30.7" lengthAdjust="spacing">150</text>
<line x1="438.80" y1="765.5" x2="438.80" y2="771.4" stroke="#000" stroke-width="1.1"/>
<text x="423.75" y="790.8" font-family="Liberation Sans, sans-serif" font-size="17" textLength="30.7" lengthAdjust="spacing">200</text>
<line x1="518.67" y1="765.5" x2="518.67" y2="771.4" stroke="#000" stroke-width="1.1"/>
<text x="503.62" y="790.8" font-family="Liberation Sans, sans-serif" font-size="17" textLength="30.7" lengthAdjust="spacing">250</text>
<line x1="598.55" y1="765.5" x2="598.55" y2="771.4" stroke="#000" stroke-width="1.1"/>
<text x="583.50" y="790.8" font-family="Liberation Sans, sans-serif" font-size="17" textLength="30.7" lengthAdjust="spacing">300</text>
<line x1="678.42" y1="765.5" x2="678.42" y2="771.4" stroke="#000" stroke-width="1.1"/>
<text x="663.37" y="790.8" font-family="Liberation Sans, sans-serif" font-size="17" textLength="30.7" lengthAdjust="spacing">350</text>
<line x1="758.30" y1="765.5" x2="758.30" y2="771.4" stroke="#000" stroke-width="1.1"/>
<text x="743.25" y="790.8" font-family="Liberation Sans, sans-serif" font-size="17" textLength="30.7" lengthAdjust="spacing">400</text>
<line x1="113.5" y1="84.5" x2="119.5" y2="84.5" stroke="#000" stroke-width="1.1"/>
<text x="66.40" y="90.7" font-family="Liberation Sans, sans-serif" font-size="17" textLength="40.6" lengthAdjust="spacing">1000</text>
<line x1="113.5" y1="241.4" x2="119.5" y2="241.4" stroke="#000" stroke-width="1.1"/>
<text x="76.50" y="247.6" font-family="Liberation Sans, sans-serif" font-size="17" textLength="29.7" lengthAdjust="spacing">800</text>
<line x1="113.5" y1="398.4" x2="119.5" y2="398.4" stroke="#000" stroke-width="1.1"/>
<text x="76.50" y="404.6" font-family="Liberation Sans, sans-serif" font-size="17" textLength="29.7" lengthAdjust="spacing">600</text>
<line x1="113.5" y1="555.3" x2="119.5" y2="555.3" stroke="#000" stroke-width="1.1"/>
<text x="76.50" y="561.5" font-family="Liberation Sans, sans-serif" font-size="17" textLength="29.7" lengthAdjust="spacing">400</text>
<line x1="113.5" y1="712.2" x2="119.5" y2="712.2" stroke="#000" stroke-width="1.1"/>
<text x="76.50" y="718.4" font-family="Liberation Sans, sans-serif" font-size="17" textLength="29.7" lengthAdjust="spacing">200</text>
<text x="476" y="815.5" text-anchor="middle" font-family="Liberation Sans, sans-serif" font-size="17" textLength="143" lengthAdjust="spacing">Binned row index</text>
<text transform="translate(53.5,402.8) rotate(-90)" text-anchor="middle" font-family="Liberation Sans, sans-serif" font-size="17" textLength="223" lengthAdjust="spacing">Aerosol mid pressure [hPa]</text>
<rect x="119.1" y="17.5" width="714.2" height="21.6" rx="2.8" ry="2.8" fill="#fff" fill-opacity="0.8" stroke="#d4d4d4" stroke-width="1.5"/>
<line x1="124.3" y1="27.3" x2="147.8" y2="27.3" stroke="#c4c4ff" stroke-width="0.8" stroke-dasharray="3.6,0.5"/>
<text x="156.5" y="31.7" font-family="Liberation Sans, sans-serif" font-size="12" textLength="36.5" lengthAdjust="spacing">1-99%</text>
<line x1="278.3" y1="27.3" x2="302" y2="27.3" stroke="#9c9cff" stroke-width="1.15" stroke-dasharray="5.2,0.85"/>
<text x="311" y="31.7" font-family="Liberation Sans, sans-serif" font-size="12" textLength="36.5" lengthAdjust="spacing">5-95%</text>
<line x1="432.3" y1="27.3" x2="455.2" y2="27.3" stroke="#7070ff" stroke-width="1.5" stroke-dasharray="6.8,1.4"/>
<text x="464.5" y="31.7" font-family="Liberation Sans, sans-serif" font-size="12" textLength="44.3" lengthAdjust="spacing">10-90%</text>
<line x1="593" y1="27.3" x2="616" y2="27.3" stroke="#6060ff" stroke-width="1.9" stroke-dasharray="8.2,1.9"/>
<text x="626.5" y="31.7" font-family="Liberation Sans, sans-serif" font-size="12" textLength="44.3" lengthAdjust="spacing">25-75%</text>
<line x1="753.2" y1="27.3" x2="778.8" y2="27.3" stroke="#000" stroke-width="2.1"/>
<text x="787.6" y="31.7" font-family="Liberation Sans, sans-serif" font-size="12" textLength="41" lengthAdjust="spacing">Median</text>
</svg>
</body></html>
